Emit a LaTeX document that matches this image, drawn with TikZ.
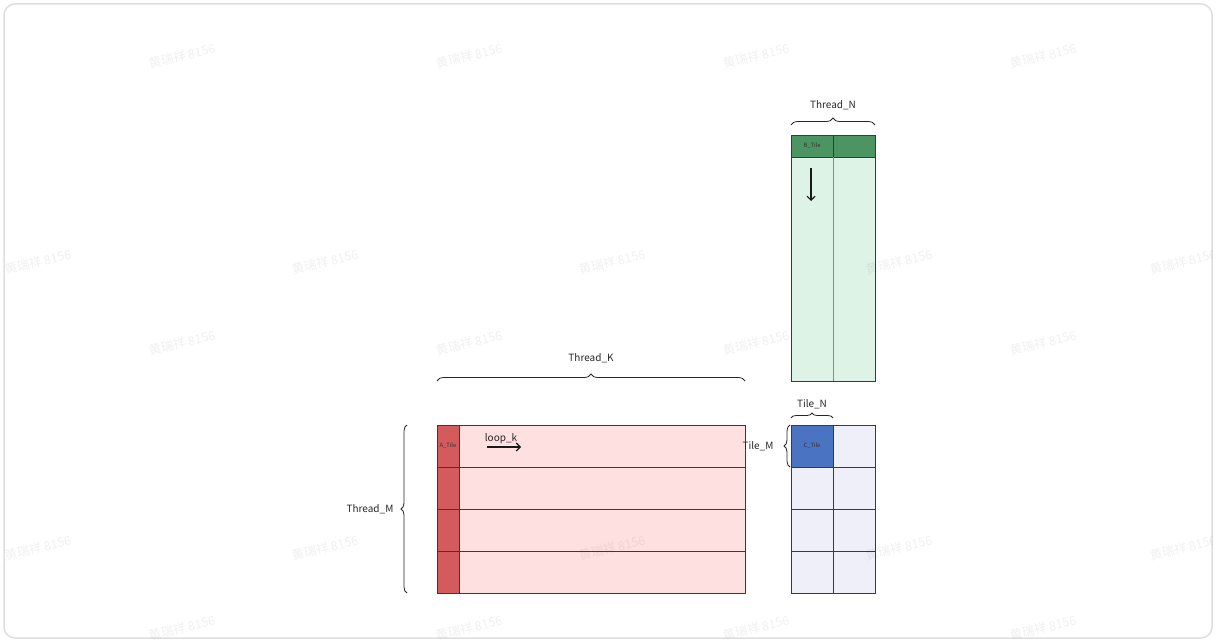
\documentclass[tikz,border=0pt]{standalone}
\usepackage{fontspec}
\setmainfont{Noto Sans CJK SC}
\usetikzlibrary{decorations.pathreplacing,arrows.meta}
\definecolor{apink}{HTML}{FFE0E1}
\definecolor{ared}{HTML}{D35B5B}
\definecolor{bgreen}{HTML}{4C9461}
\definecolor{blight}{HTML}{DCF3E6}
\definecolor{cblue}{HTML}{4A73C2}
\definecolor{clight}{HTML}{EEEFF9}
\definecolor{framegray}{HTML}{DEDEE2}
\definecolor{edge}{HTML}{3A3A3A}
\definecolor{innerline}{HTML}{8A8A8A}
\begin{document}
\begin{tikzpicture}[x=1pt,y=-1pt,
  cell/.style={draw=edge, line width=0.9pt, inner sep=0pt, outer sep=0pt, anchor=north west},
  gridline/.style={draw=innerline, line width=0.9pt},
  tilelabel/.style={font=\fontsize{5.8}{7}\selectfont, text=black!80},
  lbl/.style={font=\fontsize{10}{12}\selectfont, text=black!85},
  bracedeco/.style={decorate, decoration={brace, amplitude=#1}, draw=black!85, line width=0.8pt},
  flowarrow/.style={-{Straight Barb[length=4pt,width=8pt]}, line width=1.1pt, draw=black!90},
  wmark/.style={font=\fontsize{12.5}{14}\selectfont, text=black, opacity=0.06, rotate=14}]
\useasboundingbox (0,0) rectangle (1216,642);
\draw[framegray, line width=1.5pt, rounded corners=11pt] (4,4) rectangle (1212,638);

% matrix A: four row panels, each with its k-slice on the left
\foreach \i in {0,1,2,3} {
  \node[cell, fill=apink, minimum width=308pt, minimum height=42pt] (arow\i) at (437, 425+42*\i) {};
  \node[cell, fill=ared, minimum width=22pt, minimum height=42pt] (acol\i) at (437, 425+42*\i) {};
}
\node[tilelabel] (alabel) at (acol0.center) {A\_Tile};

% matrix B: two column panels with the k-slice on top
\node[cell, fill=blight, minimum width=84pt, minimum height=246pt] (bbody) at (791,135) {};
\node[cell, fill=bgreen, minimum width=42pt, minimum height=22pt] (bh0) at (791,135) {};
\node[cell, fill=bgreen, minimum width=42pt, minimum height=22pt] (bh1) at (833,135) {};
\draw[gridline] (bh0.south east) -- (bbody.south);
\node[tilelabel] (blabel) at (bh0.center) {B\_Tile};

% matrix C: 4 x 2 output tiles
\foreach \i in {0,1,2,3} {
  \node[cell, fill=clight, minimum width=42pt, minimum height=42pt] (cl\i) at (791, 425+42*\i) {};
  \node[cell, fill=clight, minimum width=42pt, minimum height=42pt] (cr\i) at (833, 425+42*\i) {};
}
\node[cell, fill=cblue, minimum width=42pt, minimum height=42pt] (ctile) at (791,425) {};
\node[tilelabel] (clabel) at (ctile.center) {C\_Tile};

% braces and their labels
\draw[bracedeco=7pt] ([yshift=44pt]arow0.north west) -- node[lbl, midway, yshift=23pt] (tk) {Thread\_K} ([yshift=44pt]arow0.north east);
\draw[bracedeco=7pt] ([yshift=10pt]bbody.north west) -- node[lbl, midway, yshift=20pt] (tn) {Thread\_N} ([yshift=10pt]bbody.north east);
\draw[bracedeco=6pt] ([xshift=-30pt]arow3.south west) -- node[lbl, midway, xshift=-37pt] (tm) {Thread\_M} ([xshift=-30pt]arow0.north west);
\draw[bracedeco=5pt] ([yshift=7pt]ctile.north west) -- node[lbl, midway, yshift=14pt] (tln) {Tile\_N} ([yshift=7pt]ctile.north east);
\draw[bracedeco=6pt] ([xshift=-1pt]ctile.south west) -- node[lbl, midway, xshift=-32pt] (tlm) {Tile\_M} ([xshift=-1pt]ctile.north west);

% loop directions
\coordinate (ka) at (487,447);
\coordinate (kb) at (521,447);
\draw[flowarrow] (ka) -- (kb);
\node[lbl] (loopk) at (501,439) {loop\_k};
\coordinate (na) at (811,168);
\coordinate (nb) at (811,201);
\draw[flowarrow] (na) -- (nb);

% watermark
\begin{scope}
\clip[rounded corners=11pt] (4,4) rectangle (1212,638);
\foreach \x in {182,469,756,1043} {
  \foreach \y in {56,343,628} {
    \node[wmark] at (\x,\y) {黄瑞祥 8156};
  }
}
\foreach \x in {38,325,612,899,1183} {
  \foreach \y in {262,548} {
    \node[wmark] at (\x,\y) {黄瑞祥 8156};
  }
}
\end{scope}
\end{tikzpicture}
\end{document}
